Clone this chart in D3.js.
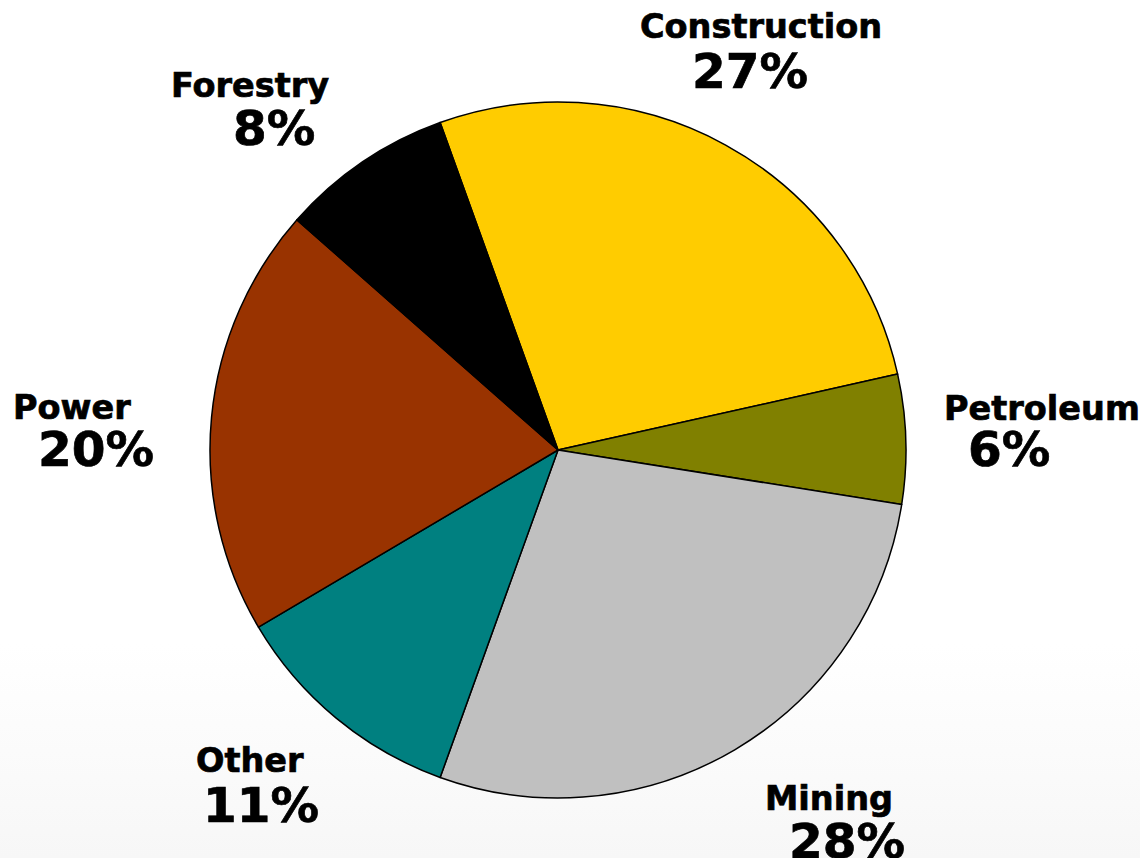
<!DOCTYPE html>
<html>
<head>
<meta charset="utf-8">
<script src="https://cdn.jsdelivr.net/npm/d3@7"></script>
<style>
  html, body { margin: 0; padding: 0; background: #fff; }
  svg { display: block; }
  text { font-family: "DejaVu Sans", Verdana, sans-serif; font-weight: bold; fill: #000; stroke: #000; stroke-width: 0.7; }
</style>
</head>
<body>
<svg id="chart" width="1140" height="858"></svg>
<script>
// Share of total by sector, clockwise from Construction
const categories = ["Construction", "Petroleum", "Mining", "Other", "Power", "Forestry"];
const shares = [27, 6, 28, 11, 20, 8];
const colors = ["#FFCC00", "#808000", "#C0C0C0", "#008080", "#993300", "#000000"];

// Label anchor points (name line start x, baseline y; percent line start x)
const labelLayout = {
  Construction: { x: 640, y: 38, px: 692, py: 88 },
  Petroleum:    { x: 944, y: 420, px: 968, py: 466 },
  Mining:       { x: 765, y: 810, px: 789, py: 858 },
  Other:        { x: 196, y: 772, px: 203, py: 822 },
  Power:        { x: 13,  y: 419, px: 38,  py: 466 },
  Forestry:     { x: 171, y: 97,  px: 233, py: 145 }
};

const width = 1140, height = 858;
const cx = 558, cy = 450, radius = 348;
const startAngle = -19.8 * Math.PI / 180;

const svg = d3.select("#chart");

// faint fade toward the bottom edge
const defs = svg.append("defs");
const grad = defs.append("linearGradient")
  .attr("id", "bg").attr("x1", 0).attr("y1", 0).attr("x2", 0).attr("y2", 1);
grad.append("stop").attr("offset", "0.75").attr("stop-color", "#ffffff");
grad.append("stop").attr("offset", "1").attr("stop-color", "#f7f7f7");
svg.append("rect").attr("width", width).attr("height", height).attr("fill", "url(#bg)");

const data = categories.map((c, i) => ({ name: c, value: shares[i], color: colors[i] }));

const pie = d3.pie()
  .value(d => d.value)
  .sort(null)
  .startAngle(startAngle)
  .endAngle(startAngle + 2 * Math.PI);

const arc = d3.arc().innerRadius(0).outerRadius(radius);

const g = svg.append("g").attr("transform", `translate(${cx},${cy})`);
g.selectAll("path")
  .data(pie(data))
  .join("path")
  .attr("d", arc)
  .attr("fill", d => d.data.color)
  .attr("stroke", "#000")
  .attr("stroke-width", 1.5)
  .attr("stroke-linejoin", "round");

const labels = svg.append("g");
data.forEach(d => {
  const p = labelLayout[d.name];
  labels.append("text")
    .attr("x", p.x).attr("y", p.y)
    .attr("font-size", 33.5)
    .text(d.name);
  labels.append("text")
    .attr("x", p.px).attr("y", p.py)
    .attr("font-size", 48.5)
    .text(d.value + "%");
});
</script>
</body>
</html>
